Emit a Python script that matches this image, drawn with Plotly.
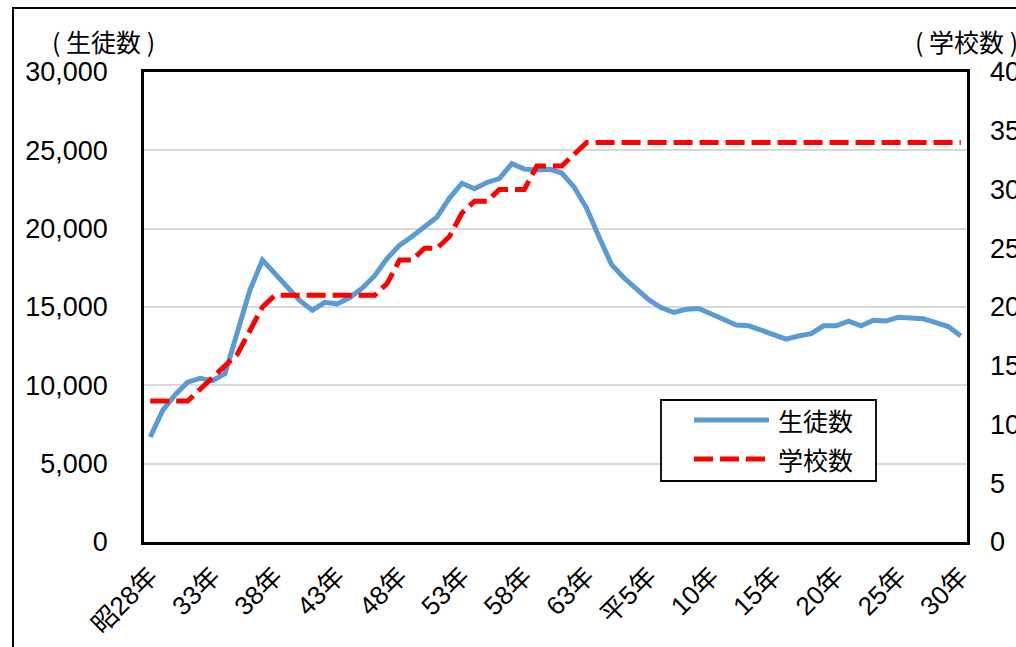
import plotly.graph_objects as go

# Western years 1953 (昭和28年) .. 2018 (平成30年)
years = list(range(1953, 2019))

# 生徒数 (left axis)
students = [
    6700, 8400, 9400, 10200, 10450, 10300, 10750, 13300, 16100, 18000,
    17150, 16300, 15400, 14800, 15300, 15200, 15600, 16200, 17000, 18100,
    18950, 19500, 20100, 20750, 21950, 22900, 22550, 22950, 23200, 24150,
    23800, 23750, 23800, 23550, 22650, 21300, 19450, 17700, 16850, 16200,
    15450, 14950, 14650, 14850, 14900, 14550, 14200, 13850, 13800, 13500,
    13200, 12950, 13150, 13300, 13800, 13800, 14100, 13800, 14150, 14100,
    14350, 14300, 14250, 14000, 13750, 13150,
]

# 学校数 (right axis)
schools = [
    12, 12, 12, 12, 13, 14, 15, 16, 18, 20,
    21, 21, 21, 21, 21, 21, 21, 21, 21, 22,
    24, 24, 25, 25, 26, 28, 29, 29, 30, 30,
    30, 32, 32, 32, 33, 34, 34, 34, 34, 34,
    34, 34, 34, 34, 34, 34, 34, 34, 34, 34,
    34, 34, 34, 34, 34, 34, 34, 34, 34, 34,
    34, 34, 34, 34, 34, 34,
]

tick_years = [1953, 1958, 1963, 1968, 1973, 1978, 1983, 1988,
              1993, 1998, 2003, 2008, 2013, 2018]
tick_labels = ["昭28年", "33年", "38年", "43年", "48年", "53年", "58年", "63年",
               "平5年", "10年", "15年", "20年", "25年", "30年"]

BLUE = "#5b9bd5"
RED = "#ff0000"
NUM_FONT = "Liberation Sans, Arial, Noto Sans CJK JP, sans-serif"
JP_FONT = "Noto Sans CJK JP, Liberation Sans, sans-serif"

fig = go.Figure()
fig.add_trace(go.Scatter(
    x=years, y=students, mode="lines", name="生徒数",
    line=dict(color=BLUE, width=5), showlegend=False,
))
fig.add_trace(go.Scatter(
    x=years, y=schools, mode="lines", name="学校数", yaxis="y2",
    line=dict(color=RED, width=5, dash="19px,7px"), showlegend=False,
))

# plot-area geometry in pixels, used to place paper-referenced decorations
L, R, T, B = 144, 967, 72, 542
W, H = 1016, 647


def px(x):
    return (x - L) / (R - L)


def py(y):
    return (B - y) / (B - T)


shapes = [
    # outer chart frame (extends past the page edge on the right/bottom)
    dict(type="rect", xref="paper", yref="paper",
         x0=px(13), x1=px(1040), y0=py(680), y1=py(8),
         line=dict(color="black", width=2), fillcolor="rgba(0,0,0,0)", layer="below"),
    # legend box
    dict(type="rect", xref="paper", yref="paper",
         x0=px(661), x1=px(876), y0=py(481), y1=py(400),
         line=dict(color="black", width=1.8), fillcolor="white"),
    dict(type="line", xref="paper", yref="paper",
         x0=px(694), x1=px(769), y0=py(420), y1=py(420),
         line=dict(color=BLUE, width=5)),
    dict(type="line", xref="paper", yref="paper",
         x0=px(694), x1=px(769), y0=py(459), y1=py(459),
         line=dict(color=RED, width=5, dash="19px,7px")),
]

annotations = [
    dict(text="( 生徒数 )", xref="paper", yref="paper", x=px(50), y=py(41),
         xanchor="left", yanchor="middle", showarrow=False,
         font=dict(family=JP_FONT, size=25, color="black")),
    dict(text="( 学校数 )", xref="paper", yref="paper", x=px(913), y=py(41),
         xanchor="left", yanchor="middle", showarrow=False,
         font=dict(family=JP_FONT, size=25, color="black")),
    dict(text="生徒数", xref="paper", yref="paper", x=px(776), y=py(420),
         xanchor="left", yanchor="middle", showarrow=False,
         font=dict(family=JP_FONT, size=25, color="black")),
    dict(text="学校数", xref="paper", yref="paper", x=px(776), y=py(459),
         xanchor="left", yanchor="middle", showarrow=False,
         font=dict(family=JP_FONT, size=25, color="black")),
]

fig.update_layout(
    width=W, height=H,
    margin=dict(l=L, r=W - R, t=T, b=H - B, pad=0, autoexpand=False),
    paper_bgcolor="white", plot_bgcolor="white",
    showlegend=False,
    shapes=shapes, annotations=annotations,
    xaxis=dict(
        range=[1952.5, 2018.5], tickmode="array",
        tickvals=tick_years, ticktext=tick_labels, tickangle=-45,
        tickfont=dict(family=NUM_FONT, size=26, color="black"),
        showgrid=False, zeroline=False, ticks="", ticklabelstandoff=6,
        automargin=False,
        showline=True, mirror=True, linecolor="black", linewidth=2.5,
    ),
    yaxis=dict(
        range=[0, 30000], dtick=5000, tickformat=",d",
        tickfont=dict(family=NUM_FONT, size=27, color="black"),
        showgrid=True, gridcolor="#d9d9d9", gridwidth=1.5,
        zeroline=False, ticks="", ticklabelstandoff=28, automargin=False,
        showline=True, mirror=True, linecolor="black", linewidth=2.5,
    ),
    yaxis2=dict(
        range=[0, 40], dtick=5, overlaying="y", side="right",
        tickfont=dict(family=NUM_FONT, size=27, color="black"),
        showgrid=False, zeroline=False, showline=False, ticks="",
        ticklabelstandoff=22, automargin=False,
    ),
)

fig.write_html("out.html")
